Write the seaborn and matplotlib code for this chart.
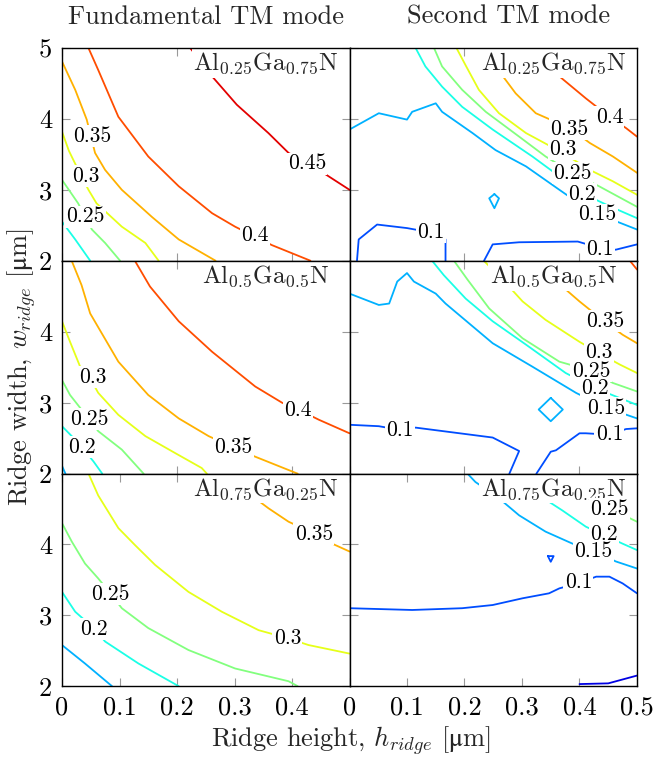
import matplotlib
matplotlib.use("Agg")
import matplotlib.pyplot as plt
import seaborn as sns
from matplotlib.colors import LinearSegmentedColormap, Normalize

sns.set_style("ticks")
plt.rcParams["font.family"] = ["cmr10"]
plt.rcParams["mathtext.fontset"] = "cm"
plt.rcParams["axes.formatter.use_mathtext"] = True
plt.rcParams["axes.unicode_minus"] = False

# ---------------- data: contour lines ----------------
# each entry: (level, x values [h_ridge, um], y values [w_ridge, um])
fund_al025 = [
    (0.45, [0.223, 0.261, 0.304, 0.359, 0.394, 0.426, 0.458, 0.5], [5.0, 4.6, 4.2, 3.8, 3.52, 3.38, 3.22, 3.0]),
    (0.40, [0.046, 0.063, 0.098, 0.150, 0.203, 0.261, 0.301, 0.365, 0.432], [5.0, 4.69, 4.03, 3.47, 3.05, 2.67, 2.48, 2.22, 2.0]),
    (0.35, [0.0, 0.023, 0.043, 0.0575, 0.075, 0.104, 0.156, 0.203, 0.267], [4.81, 4.41, 3.99, 3.52, 3.28, 3.0, 2.62, 2.30, 2.0]),
    (0.30, [0.0, 0.012, 0.030, 0.046, 0.060, 0.104, 0.145, 0.168], [3.82, 3.55, 3.25, 3.0, 2.81, 2.48, 2.25, 2.0]),
    (0.25, [0.0, 0.028, 0.052, 0.075, 0.101], [3.14, 2.81, 2.44, 2.25, 2.0]),
    (0.20, [0.0, 0.023, 0.049], [2.55, 2.30, 2.0]),
]
fund_al025_labels = [("0.45", 0.426, 3.37), ("0.4", 0.335, 2.36), ("0.35", 0.052, 3.76),
                     ("0.3", 0.041, 3.19), ("0.25", 0.040, 2.62)]

second_al025 = [
    (0.40, [0.318, 0.365, 0.411, 0.452, 0.481, 0.5], [5.0, 4.60, 4.29, 4.03, 3.87, 3.75]),
    (0.35, [0.231, 0.254, 0.289, 0.324, 0.383, 0.418, 0.458, 0.5], [5.0, 4.74, 4.36, 4.08, 3.87, 3.66, 3.47, 3.24]),
    (0.30, [0.186, 0.203, 0.225, 0.26, 0.307, 0.371, 0.418, 0.458, 0.5], [5.0, 4.74, 4.41, 4.08, 3.80, 3.52, 3.28, 3.12, 2.93]),
    (0.25, [0.147, 0.161, 0.196, 0.237, 0.295, 0.341, 0.388, 0.434, 0.5], [5.0, 4.74, 4.41, 4.10, 3.75, 3.47, 3.235, 3.05, 2.76]),
    (0.20, [0.115, 0.132, 0.161, 0.196, 0.249, 0.318, 0.365, 0.405, 0.452, 0.5], [5.0, 4.74, 4.455, 4.17, 3.85, 3.47, 3.19, 2.95, 2.77, 2.60]),
    (0.15, [0.0, 0.051, 0.100, 0.109, 0.150, 0.161, 0.214, 0.254, 0.307, 0.365, 0.397, 0.431, 0.5],
           [3.85, 4.08, 3.99, 4.10, 4.22, 4.10, 3.80, 3.56, 3.33, 3.0, 2.82, 2.66, 2.44]),
    (0.15, [0.252, 0.260, 0.252, 0.243, 0.252], [2.94, 2.88, 2.74, 2.88, 2.94]),
    (0.10, [0.013, 0.016, 0.048, 0.100, 0.141, 0.167, 0.167], [2.0, 2.30, 2.51, 2.46, 2.40, 2.30, 2.0]),
    (0.10, [0.234, 0.249, 0.295, 0.397, 0.435, 0.463, 0.5], [2.0, 2.23, 2.26, 2.27, 2.18, 2.155, 2.23]),
]
second_al025_labels = [("0.4", 0.452, 4.03), ("0.35", 0.383, 3.86), ("0.3", 0.371, 3.57),
                       ("0.25", 0.388, 3.235), ("0.2", 0.405, 2.94), ("0.15", 0.431, 2.65),
                       ("0.1", 0.141, 2.40), ("0.1", 0.436, 2.16)]

fund_al05 = [
    (0.40, [0.127, 0.153, 0.203, 0.261, 0.336, 0.383, 0.412, 0.447, 0.5], [5.0, 4.64, 4.15, 3.72, 3.23, 3.0, 2.90, 2.76, 2.57]),
    (0.35, [0.017, 0.034, 0.049, 0.098, 0.150, 0.203, 0.255, 0.298, 0.336, 0.41], [5.0, 4.66, 4.26, 3.58, 3.11, 2.78, 2.53, 2.37, 2.24, 2.0]),
    (0.30, [0.0, 0.014, 0.031, 0.052, 0.063, 0.098, 0.145, 0.197, 0.243, 0.252], [4.15, 3.86, 3.52, 3.30, 3.14, 2.83, 2.53, 2.29, 2.08, 2.0]),
    (0.25, [0.0, 0.014, 0.046, 0.063, 0.104, 0.142], [3.32, 3.11, 2.78, 2.60, 2.34, 2.0]),
    (0.20, [0.0, 0.023, 0.034, 0.055, 0.070], [2.67, 2.48, 2.38, 2.17, 2.0]),
    (0.15, [0.0, 0.006], [2.11, 2.0]),
]
fund_al05_labels = [("0.4", 0.41, 2.90), ("0.35", 0.298, 2.37), ("0.3", 0.053, 3.36),
                    ("0.25", 0.047, 2.775), ("0.2", 0.035, 2.38)]

second_al05 = [
    (0.40, [0.488, 0.5], [5.0, 4.88]),
    (0.35, [0.31, 0.353, 0.40, 0.443, 0.475, 0.5], [5.0, 4.76, 4.43, 4.15, 3.96, 3.84]),
    (0.30, [0.234, 0.266, 0.301, 0.341, 0.40, 0.434, 0.47, 0.5], [5.0, 4.74, 4.43, 4.17, 3.86, 3.70, 3.54, 3.42]),
    (0.25, [0.182, 0.205, 0.243, 0.301, 0.365, 0.417, 0.458, 0.5], [5.0, 4.74, 4.33, 3.91, 3.58, 3.46, 3.28, 3.16]),
    (0.20, [0.144, 0.164, 0.202, 0.249, 0.307, 0.376, 0.426, 0.5], [5.0, 4.80, 4.47, 4.15, 3.82, 3.42, 3.21, 2.97]),
    (0.15, [0.0, 0.051, 0.069, 0.083, 0.100, 0.112, 0.150, 0.167, 0.249, 0.318, 0.394, 0.446, 0.5],
           [4.54, 4.38, 4.40, 4.71, 4.83, 4.71, 4.54, 4.40, 3.84, 3.51, 3.14, 2.93, 2.78]),
    (0.15, [0.35, 0.371, 0.35, 0.329, 0.35], [3.07, 2.905, 2.74, 2.905, 3.07]),
    (0.10, [0.0, 0.051, 0.086, 0.115, 0.249, 0.295, 0.278], [2.69, 2.67, 2.62, 2.65, 2.51, 2.32, 2.0]),
    (0.10, [0.325, 0.350, 0.359, 0.40, 0.411, 0.452, 0.481, 0.5], [2.0, 2.31, 2.33, 2.57, 2.57, 2.55, 2.63, 2.64]),
]
second_al05_labels = [("0.35", 0.444, 4.15), ("0.3", 0.434, 3.71), ("0.25", 0.42, 3.45),
                      ("0.2", 0.427, 3.21), ("0.15", 0.446, 2.92), ("0.1", 0.087, 2.61),
                      ("0.1", 0.452, 2.56)]

fund_al075 = [
    (0.35, [0.28, 0.313, 0.359, 0.394, 0.438, 0.470, 0.5], [5.0, 4.79, 4.51, 4.32, 4.155, 4.01, 3.90]),
    (0.30, [0.046, 0.063, 0.098, 0.127, 0.162, 0.22, 0.278, 0.342, 0.391, 0.429, 0.5],
           [5.0, 4.69, 4.23, 3.99, 3.71, 3.33, 3.05, 2.79, 2.68, 2.58, 2.46]),
    (0.25, [0.0, 0.017, 0.040, 0.063, 0.084, 0.104, 0.150, 0.22, 0.301, 0.394, 0.41],
           [4.30, 4.04, 3.73, 3.52, 3.31, 3.10, 2.82, 2.51, 2.25, 2.07, 2.0]),
    (0.20, [0.0, 0.023, 0.055, 0.075, 0.133, 0.203], [3.33, 3.05, 2.82, 2.63, 2.32, 2.0]),
    (0.15, [0.0, 0.040, 0.087], [2.58, 2.32, 2.0]),
]
fund_al075_labels = [("0.35", 0.438, 4.145), ("0.3", 0.392, 2.67), ("0.25", 0.084, 3.30),
                     ("0.2", 0.056, 2.81)]

second_al075 = [
    (0.25, [0.353, 0.40, 0.452, 0.5], [5.0, 4.79, 4.51, 4.32]),
    (0.20, [0.272, 0.33, 0.370, 0.411, 0.443, 0.475, 0.5], [5.0, 4.69, 4.48, 4.25, 4.13, 4.01, 3.92]),
    (0.15, [0.205, 0.219, 0.257, 0.295, 0.341, 0.388, 0.423, 0.463, 0.5], [5.0, 4.88, 4.67, 4.41, 4.18, 4.01, 3.92, 3.76, 3.66]),
    (0.10, [0.345, 0.355, 0.350, 0.345], [3.835, 3.835, 3.755, 3.835]),
    (0.10, [0.0, 0.109, 0.196, 0.249, 0.301, 0.347, 0.365, 0.397, 0.429, 0.452, 0.475, 0.5],
           [3.10, 3.075, 3.10, 3.145, 3.24, 3.31, 3.38, 3.45, 3.545, 3.545, 3.45, 3.31]),
    (0.05, [0.40, 0.45, 0.5], [2.03, 2.04, 2.15]),
]
second_al075_labels = [("0.25", 0.452, 4.50), ("0.2", 0.443, 4.15), ("0.15", 0.424, 3.91),
                       ("0.1", 0.398, 3.46)]

materials = [r"Al$_{0.25}$Ga$_{0.75}$N", r"Al$_{0.5}$Ga$_{0.5}$N", r"Al$_{0.75}$Ga$_{0.25}$N"]
column_titles = ["Fundamental TM mode", "Second TM mode"]
x_tick_labels = ["0", "0.1", "0.2", "0.3", "0.4", "0.5"]
y_tick_labels = ["2", "3", "4", "5"]

panels = [[(fund_al025, fund_al025_labels), (second_al025, second_al025_labels)],
          [(fund_al05, fund_al05_labels), (second_al05, second_al05_labels)],
          [(fund_al075, fund_al075_labels), (second_al075, second_al075_labels)]]

# pgfplots-style jet colormap, level range 0..0.5
jet = LinearSegmentedColormap.from_list(
    "pgfjet", [(0, (0, 0, 0.5)), (1 / 8, (0, 0, 1)), (3 / 8, (0, 1, 1)),
               (5 / 8, (1, 1, 0)), (7 / 8, (1, 0, 0)), (1, (0.5, 0, 0))])
norm = Normalize(0.0, 0.5)

W, H = 654, 762
fig = plt.figure(figsize=(W / 100, H / 100), dpi=100)

col_x = [62, 349.5]
col_w = 287.5
row_top = [48, 261, 473.5]
row_h = 212.7

FS = 19
for r in range(3):
    for c in range(2):
        left = col_x[c] / W
        bottom = 1 - (row_top[r] + row_h) / H
        ax = fig.add_axes([left, bottom, col_w / W, row_h / H])
        lines, labels = panels[r][c]
        for lev, xs, ys in lines:
            sns.lineplot(x=xs, y=ys, sort=False, estimator=None, color=jet(norm(lev)),
                         lw=1.3, ax=ax, legend=False, zorder=2)
        ax.text(0.355, 4.78, materials[r], ha="center", va="center", fontsize=18, zorder=5,
                bbox=dict(boxstyle="square,pad=0.06", fc="white", ec="none"))
        for s, x, y in labels:
            ax.text(x, y, s, ha="center", va="center", fontsize=15.5, color="black", zorder=7,
                    bbox=dict(boxstyle="square,pad=0.06", fc="white", ec="none"))
        ax.set_xlim(0, 0.5)
        ax.set_ylim(2, 5)
        ax.set_xlabel("")
        ax.set_ylabel("")
        if r == 2:
            ax.set_xticks([0, 0.1, 0.2, 0.3, 0.4, 0.5])
            if c == 0:
                ax.set_xticklabels(x_tick_labels[:-1] + [""])
            else:
                ax.set_xticklabels(x_tick_labels)
        else:
            ax.set_xticks([0, 0.2, 0.4])
            ax.set_xticklabels([])
        ax.set_yticks([2, 3, 4, 5])
        if c == 0:
            if r == 0:
                ax.set_yticklabels(y_tick_labels)
            else:
                ax.set_yticklabels(y_tick_labels[:-1] + [""])
        else:
            ax.set_yticklabels([])
        ax.tick_params(direction="in", length=6, width=0.8, color="#999999",
                       top=True, right=True, labelsize=FS, pad=7, labelcolor="black")
        for sp in ax.spines.values():
            sp.set_visible(True)
            sp.set_color("black")
            sp.set_linewidth(1.0)
            sp.set_zorder(10)

fig.text(206.5 / W, 1 - 17 / H, column_titles[0], ha="center", va="center", fontsize=FS)
fig.text(509 / W, 1 - 17 / H, column_titles[1], ha="center", va="center", fontsize=FS)
mu = "$\\mathrm{\u03bc}$"
fig.text(351 / W, 1 - 741 / H, r"Ridge height, $h_{ridge}$ [" + mu + "m]",
         ha="center", va="center", fontsize=FS)
fig.text(22 / W, 1 - 367 / H, r"Ridge width, $w_{ridge}$ [" + mu + "m]",
         ha="center", va="center", rotation=90, fontsize=FS)

fig.savefig("out.png", dpi=100)
